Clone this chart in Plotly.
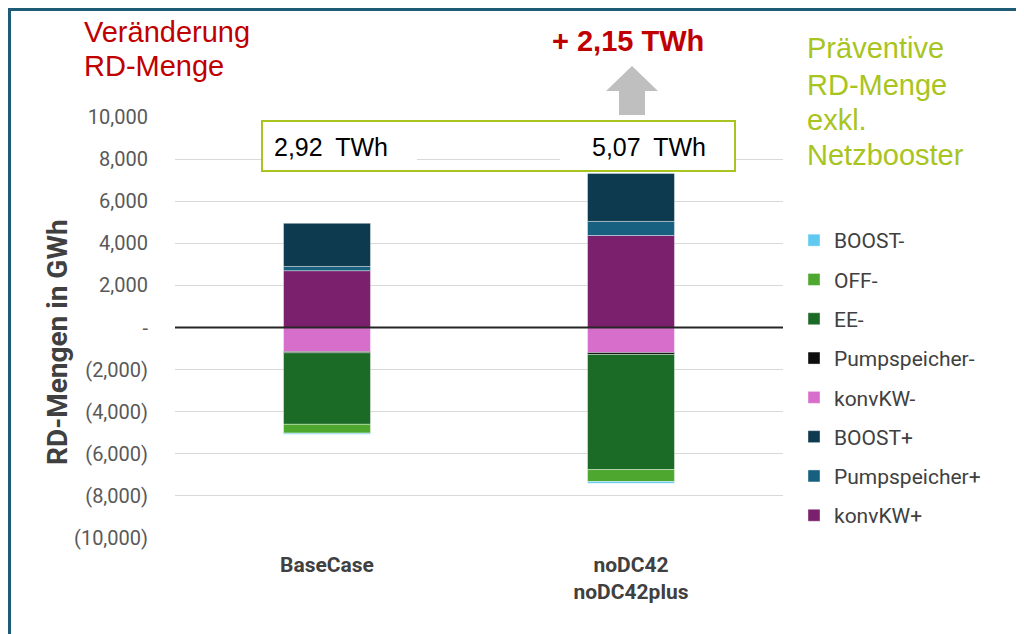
import plotly.graph_objects as go

# data (GWh)
categories = ["BaseCase", "noDC42<br>noDC42plus"]
konvkw_plus = [2700, 4370]
pump_plus = [200, 670]
boost_plus = [2050, 2280]
konvkw_minus = [-1140, -1190]
pump_minus = [-60, -90]
ee_minus = [-3400, -5470]
off_minus = [-420, -570]
boost_minus = [-50, -80]

tick_vals = [-10000, -8000, -6000, -4000, -2000, 0, 2000, 4000, 6000, 8000, 10000]
tick_text = ["(10,000)", "(8,000)", "(6,000)", "(4,000)", "(2,000)", "-",
             "2,000", "4,000", "6,000", "8,000", "10,000"]

# stacking order (from zero outward), legend shows it reversed
series = [
    ("konvKW+", konvkw_plus, "#7A206C"),
    ("Pumpspeicher+", pump_plus, "#17607F"),
    ("BOOST+", boost_plus, "#0E3A4F"),
    ("konvKW-", konvkw_minus, "#D86ECC"),
    ("Pumpspeicher-", pump_minus, "#0D0D0D"),
    ("EE-", ee_minus, "#1B6A26"),
    ("OFF-", off_minus, "#4EA72E"),
    ("BOOST-", boost_minus, "#5FC9F2"),
]

W, H = 1024, 634
OFF = 8  # page body margin
L, R, T, B = 175, 783, 117, 538


def px(x):
    return (x - L) / (R - L)


def py(y):
    return (B - y) / (B - T)


fig = go.Figure()
for i, (name, vals, col) in enumerate(series):
    fig.add_trace(go.Bar(
        x=categories, y=vals, name=name, legendgroup=str(i), legendrank=100 - i,
        marker=dict(color=col, line=dict(color="rgba(255,255,255,0.5)", width=0.8)),
    ))

green = "#A8C41E"
red = "#C00000"

shapes = [
    # zero line on top of bars
    dict(type="line", xref="paper", yref="y", x0=0, x1=1, y0=0, y1=0,
         line=dict(color="#262626", width=2), layer="above"),
    # white text boxes
    dict(type="rect", xref="paper", yref="paper", x0=px(263), x1=px(417), y0=py(170), y1=py(122),
         fillcolor="white", line=dict(width=0), layer="above"),
    dict(type="rect", xref="paper", yref="paper", x0=px(560), x1=px(734), y0=py(170), y1=py(122),
         fillcolor="white", line=dict(width=0), layer="above"),
    dict(type="rect", xref="paper", yref="paper", x0=px(262), x1=px(735), y0=py(171), y1=py(121),
         fillcolor="rgba(0,0,0,0)", line=dict(color=green, width=2), layer="above"),
    # grey arrow
    dict(type="path", xref="paper", yref="paper", layer="above",
         path="M {},{} L {},{} L {},{} L {},{} L {},{} L {},{} L {},{} Z".format(
             px(632), py(66), px(658), py(91), px(645), py(91), px(645), py(115),
             px(619), py(115), px(619), py(91), px(606), py(91)),
         fillcolor="#BFBFBF", line=dict(width=0)),
    # outer frame
    dict(type="line", xref="paper", yref="paper", x0=px(8), x1=px(1040), y0=py(9.5), y1=py(9.5),
         line=dict(color="#1E5B74", width=3), layer="above"),
    dict(type="line", xref="paper", yref="paper", x0=px(9.5), x1=px(9.5), y0=py(8), y1=py(650),
         line=dict(color="#1E5B74", width=3), layer="above"),
]

arial = "Liberation Sans, Arial"
annotations = [
    dict(text="Veränderung", x=px(82), y=py(32), xanchor="left", yanchor="middle",
         font=dict(family=arial, size=29, color=red)),
    dict(text="RD-Menge", x=px(82), y=py(66), xanchor="left", yanchor="middle",
         font=dict(family=arial, size=29, color=red)),
    dict(text="<b>+ 2,15 TWh</b>", x=px(628), y=py(41), xanchor="center", yanchor="middle",
         font=dict(family=arial, size=29, color=red)),
    dict(text="2,92\u2002TWh", x=px(331), y=py(147), xanchor="center", yanchor="middle",
         font=dict(family=arial, size=25, color="#000000")),
    dict(text="5,07\u2002TWh", x=px(649), y=py(147), xanchor="center", yanchor="middle",
         font=dict(family=arial, size=25, color="#000000")),
    dict(text="<b>RD-Mengen in GWh</b>", x=px(57), y=py(342), xanchor="center", yanchor="middle",
         textangle=-90, font=dict(family="Roboto", size=28, color="#404040")),
]
for line, yy in zip(["Präventive", "RD-Menge", "exkl.", "Netzbooster"], [48, 85, 120, 155]):
    annotations.append(dict(text=line, x=px(805), y=py(yy), xanchor="left", yanchor="middle",
                            font=dict(family=arial, size=29, color=green)))
for a in annotations:
    a.update(xref="paper", yref="paper", showarrow=False)

fig.update_layout(
    width=W, height=H,
    margin=dict(l=L - OFF, r=W - R + OFF, t=T - OFF, b=H - B + OFF, pad=0),
    paper_bgcolor="white", plot_bgcolor="white",
    barmode="relative", bargap=0.714,
    font=dict(family="Roboto", color="#595959"),
    xaxis=dict(showgrid=False, showline=False, ticks="", ticklabelstandoff=12,
               tickfont=dict(family="Roboto", size=21, color="#404040", weight="bold")),
    yaxis=dict(range=[-10000, 10000], tickvals=tick_vals, ticktext=tick_text,
               showgrid=True, gridcolor="#D9D9D9", gridwidth=1, zeroline=False,
               showline=False, ticks="", ticklabelstandoff=26,
               tickfont=dict(family="Roboto", size=20, color="#595959")),
    legend=dict(x=px(794), y=py(220), xanchor="left", yanchor="top",
                traceorder="grouped", tracegroupgap=9,
                font=dict(family="Roboto", size=21, color="#404040"),
                bgcolor="rgba(0,0,0,0)"),
    shapes=shapes, annotations=annotations,
)

fig.write_html("out.html")
